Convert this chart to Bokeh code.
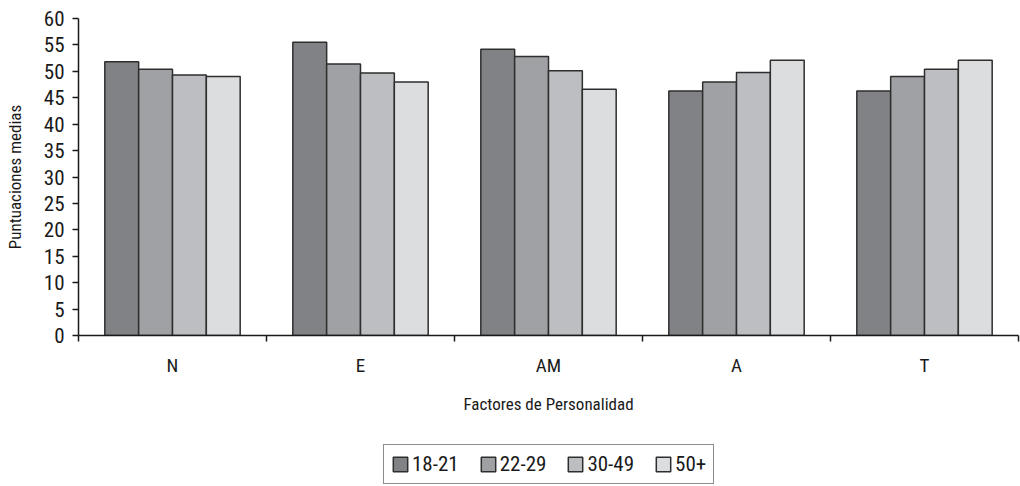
from bokeh.plotting import figure
from bokeh.layouts import column
from bokeh.models import (ColumnDataSource, Range1d, FixedTicker, Legend, LegendItem)
from bokeh.embed import file_html
from bokeh.resources import INLINE

# Mean personality-factor scores by age group
factors = ["N", "E", "AM", "A", "T"]
age_groups = ["18-21", "22-29", "30-49", "50+"]
scores_18_21 = [51.8, 55.5, 54.2, 46.3, 46.3]
scores_22_29 = [50.4, 51.4, 52.8, 48.0, 49.0]
scores_30_49 = [49.3, 49.7, 50.1, 49.8, 50.4]
scores_50_plus = [49.0, 48.0, 46.6, 52.1, 52.1]
y_ticks = list(range(0, 61, 5))

series = [scores_18_21, scores_22_29, scores_30_49, scores_50_plus]
fills = ["#818285", "#a0a1a5", "#bdbec2", "#dcdddf"]
offsets = [-0.27, -0.09, 0.09, 0.27]
bar_w = 0.18

FONT = "Roboto Condensed"
INK = "#1a1a1a"
EDGE = "#2e2e2e"

sources = [ColumnDataSource(dict(x=[i + 0.5 + off for i in range(len(factors))], top=vals))
           for vals, off in zip(series, offsets)]

p = figure(width=1020, height=430, output_backend="svg", toolbar_location=None,
           x_range=Range1d(0, len(factors)), y_range=Range1d(0, 60),
           min_border_left=78, min_border_right=2, min_border_top=18,
           min_border_bottom=95)
p.outline_line_color = None
p.xgrid.grid_line_color = None
p.ygrid.grid_line_color = None
p.background_fill_color = "white"
p.border_fill_color = "white"

for src, col in zip(sources, fills):
    p.vbar(x="x", top="top", width=bar_w, bottom=0, source=src,
           fill_color=col, line_color=EDGE, line_width=1.5)

# x axis: labels at group centres, ticks at group boundaries
xt = FixedTicker(ticks=[i + 0.5 for i in range(len(factors))],
                 minor_ticks=list(range(len(factors) + 1)))
p.xaxis.ticker = xt
p.xaxis.major_label_overrides = {i + 0.5: f for i, f in enumerate(factors)}
p.xaxis.major_tick_out = 0
p.xaxis.major_tick_in = 0
p.xaxis.minor_tick_out = 6
p.xaxis.minor_tick_in = 0
p.xaxis.major_label_standoff = 12
p.xaxis.axis_label = "Factores de Personalidad"
p.xaxis.axis_label_standoff = 14

p.yaxis.ticker = FixedTicker(ticks=y_ticks)
p.yaxis.minor_tick_line_color = None
p.yaxis.major_tick_out = 6
p.yaxis.major_tick_in = 0
p.yaxis.major_label_standoff = 8
p.yaxis.axis_label = "Puntuaciones medias"
p.yaxis.axis_label_standoff = 16

for ax in (p.xaxis[0], p.yaxis[0]):
    ax.axis_line_color = INK
    ax.axis_line_width = 1.5
    ax.major_tick_line_color = INK
    ax.major_tick_line_width = 1.5
    ax.minor_tick_line_width = 1.5
    ax.major_label_text_font = FONT
    ax.major_label_text_color = INK
    ax.axis_label_text_font = FONT
    ax.axis_label_text_font_style = "normal"
    ax.axis_label_text_color = INK
    ax.axis_label_text_font_size = "17px"
p.xaxis.minor_tick_line_color = INK

p.yaxis.major_label_text_font_size = "21px"
p.xaxis.major_label_text_font_size = "19px"

# legend strip underneath the chart; its swatch renderers hold a single
# undefined (NaN) entry, so only the legend swatches get drawn
lg = figure(width=1020, height=56, output_backend="svg", toolbar_location=None,
            x_axis_location=None, y_axis_location=None,
            x_range=p.x_range, y_range=Range1d(0, 1),
            min_border=0, min_border_left=78, min_border_right=2)
lg.outline_line_color = None
lg.xgrid.grid_line_color = None
lg.ygrid.grid_line_color = None
items = []
for col, name in zip(fills, age_groups):
    swatch = ColumnDataSource(dict(x=[float("nan")], top=[float("nan")]))
    r = lg.vbar(x="x", top="top", width=bar_w, bottom=0, source=swatch,
                fill_color=col, line_color=EDGE, line_width=1.5)
    items.append(LegendItem(label=name, renderers=[r]))

legend = Legend(items=items, orientation="horizontal", location=(305, 2),
                label_text_font=FONT, label_text_font_size="21px",
                label_text_color=INK,
                glyph_width=18, glyph_height=18, label_standoff=3, spacing=20,
                padding=7, margin=0,
                border_line_color=INK, border_line_width=1.5,
                background_fill_color="white", background_fill_alpha=1.0)
lg.add_layout(legend, "center")

open("out.html", "w").write(file_html(column(p, lg, spacing=0), INLINE))
